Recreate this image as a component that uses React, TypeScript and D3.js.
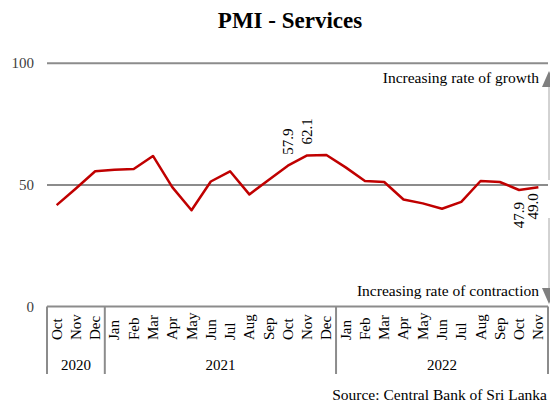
import React from "react";
import * as d3 from "d3";

const months = ["Oct","Nov","Dec","Jan","Feb","Mar","Apr","May","Jun","Jul","Aug","Sep","Oct","Nov","Dec","Jan","Feb","Mar","Apr","May","Jun","Jul","Aug","Sep","Oct","Nov"];
const pmiValues = [41.7,48.5,55.6,56.2,56.5,61.9,49.1,39.6,51.4,55.6,46.1,52.0,57.9,62.1,62.3,57.2,51.6,51.2,44.0,42.4,40.2,43.0,51.6,51.2,47.9,49.0];
const years = ["2020","2021","2022"];
const yearSpans = [[0,2],[3,14],[15,25]];
const yTicks = [0,50,100];
const dataLabels = [
  { index: 12, text: "57.9", pos: "above" },
  { index: 13, text: "62.1", pos: "above" },
  { index: 24, text: "47.9", pos: "below" },
  { index: 25, text: "49.0", pos: "below" },
];

const FONT = "'Liberation Serif', 'Times New Roman', serif";

export default function App() {
  const W = 550, H = 410;
  const left = 47, right = 548;
  const x = d3.scaleBand<number>().domain(months.map((_, i) => i)).range([left, right]).padding(0);
  const y = d3.scaleLinear().domain([0, 100]).range([306.5, 63.3]);
  const cx = (i: number) => (x(i) as number) + x.bandwidth() / 2;
  const line = d3.line<number>().x((_, i) => cx(i)).y(d => y(d));
  const axisBottom = 374;
  const gray = "#8c8c8c";

  const boundaries = [left, ...yearSpans.map(s => (x(s[1]) as number) + x.bandwidth())];

  return (
    <svg width={W} height={H} style={{ position: "absolute", left: 0, top: 0, background: "#fff" }} fontFamily={FONT}>
      <text x={290} y={28} textAnchor="middle" fontSize={23} fontWeight="bold" fill="#000">PMI - Services</text>

      {yTicks.map(t => (
        <g key={t}>
          {t > 0 && <line x1={left} x2={right} y1={y(t)} y2={y(t)} stroke={gray} strokeWidth={2} />}
          <text x={34} y={y(t) + 5} textAnchor="end" fontSize={15} fill="#404040">{t}</text>
        </g>
      ))}

      {/* category axis box */}
      <line x1={left} x2={right} y1={y(0)} y2={y(0)} stroke={gray} strokeWidth={2} />
      {boundaries.map((b, i) => (
        <line key={i} x1={b} x2={b} y1={y(0)} y2={axisBottom} stroke={gray} strokeWidth={2} />
      ))}
      {months.map((m, i) => (
        <text key={i} transform={`translate(${cx(i) + 5},340) rotate(-90)`} fontSize={15} fill="#000">{m}</text>
      ))}
      {years.map((yr, i) => {
        const a = x(yearSpans[i][0]) as number;
        const b = (x(yearSpans[i][1]) as number) + x.bandwidth();
        return <text key={yr} x={(a + b) / 2} y={370} textAnchor="middle" fontSize={15} fill="#000">{yr}</text>;
      })}

      {/* arrows on right */}
      <line x1={549} x2={549} y1={180} y2={80} stroke="#a6a6a6" strokeWidth={1} />
      <line x1={549} x2={549} y1={218} y2={296} stroke="#a6a6a6" strokeWidth={1} />
      <path d="M549,71 L542,87 L556,87 Z" fill="#7f7f7f" />
      <path d="M549,304 L542,288 L556,288 Z" fill="#7f7f7f" />
      <text x={539} y={83} textAnchor="end" fontSize={15.5} fill="#000">Increasing rate of growth</text>
      <text x={539} y={296} textAnchor="end" fontSize={15.5} fill="#000">Increasing rate of contraction</text>

      <path d={line(pmiValues) || ""} fill="none" stroke="#C00000" strokeWidth={2.5} strokeLinejoin="round" />

      {dataLabels.map(l => {
        const px = cx(l.index) + (l.index === 25 ? -5 : 0) + 5;
        const py = y(pmiValues[l.index]);
        const ay = l.pos === "above" ? py - 11 : py + (l.index === 25 ? 6 : 12);
        return (
          <text key={l.index} transform={`translate(${px},${ay}) rotate(-90)`} textAnchor={l.pos === "above" ? "start" : "end"} fontSize={15} fill="#000">{l.text}</text>
        );
      })}

      <text x={547} y={400} textAnchor="end" fontSize={15.5} fill="#000">Source: Central Bank of Sri Lanka</text>
    </svg>
  );
}
